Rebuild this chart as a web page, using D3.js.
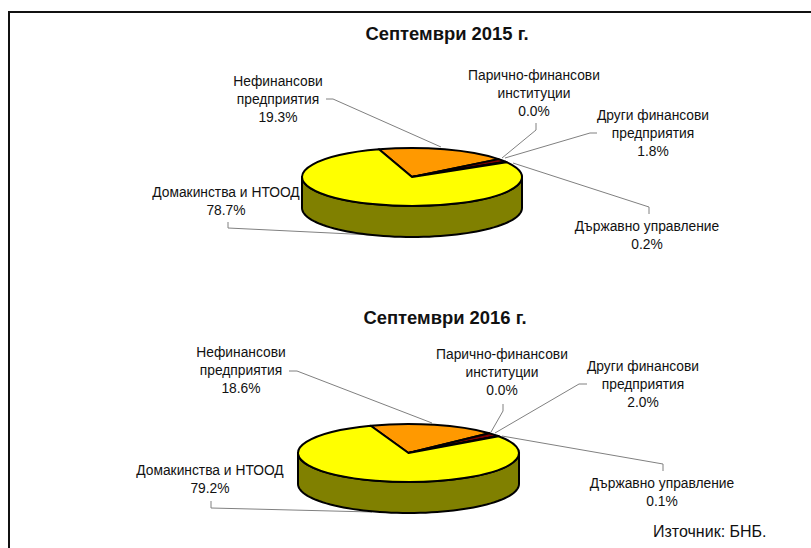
<!DOCTYPE html>
<html lang="bg">
<head>
    <meta charset="UTF-8">
    <title>Септември 2015 г. / Септември 2016 г.</title>
    <script src="https://d3js.org/d3.v7.min.js"></script>
    <style>
        body { margin: 0; background: #fff; }
        svg { display: block; }
        text { font-family: "Liberation Sans", Arial, sans-serif; fill: #111; }
        .label { font-size: 13.8px; text-anchor: middle; }
        .title { font-size: 18.4px; font-weight: bold; text-anchor: middle; }
        .source { font-size: 16px; }
        .leader { fill: none; stroke: #808080; stroke-width: 1; }
        .outline { stroke: #000; stroke-width: 2; vector-effect: non-scaling-stroke; stroke-linejoin: round; }
    </style>
</head>
<body>
    <svg id="chart" width="811" height="548"></svg>

    <script>
        // Data
        const sectors = ["Нефинансови предприятия", "Други финансови предприятия", "Държавно управление", "Парично-финансови институции", "Домакинства и НТООД"];
        const colors = ["#ff9900", "#800000", "#000000", "#000000", "#ffff00"];
        const titles = ["Септември 2015 г.", "Септември 2016 г."];
        const values2015 = [19.3, 1.8, 0.2, 0.0, 78.7];
        const values2016 = [18.6, 2.0, 0.1, 0.0, 79.2];
        const sourceText = "Източник: БНБ.";

        // Label lines for each sector (the value line is added below)
        const labelLines = [
            ["Нефинансови", "предприятия"],
            ["Други финансови", "предприятия"],
            ["Държавно управление"],
            ["Парично-финансови", "институции"],
            ["Домакинства и НТООД"]
        ];

        // Layout, kept apart from the values
        const layout2015 = {
            cx: 412, cy: 177, rx: 110, ry: 29, depth: 31, start: -17.5, titleX: 447, titleY: 40,
            labels: [[278, 86], [653, 120], [647, 231], [534, 80], [226, 197]],
            leaders: [
                [[326, 99], [333, 99], [441, 147]],
                [[597, 133], [590, 133], [505, 158]],
                [[649, 214], [649, 207], [513, 163]],
                [[536, 123], [536, 130], [502, 158]],
                [[228, 222], [228, 228], [372, 235]]
            ]
        };
        const layout2016 = {
            cx: 408.5, cy: 453, rx: 110.5, ry: 29, depth: 31, start: -20, titleX: 445, titleY: 324,
            labels: [[241, 357], [643, 371], [662, 488], [502, 359], [210, 475]],
            leaders: [
                [[289, 371], [297, 371], [432, 423]],
                [[587, 384], [579, 384], [495, 433]],
                [[663, 471], [663, 464], [502, 436]],
                [[503, 404], [503, 411], [491, 432]],
                [[211, 501], [211, 508], [372, 512]]
            ]
        };

        const svg = d3.select("#chart");
        const color = d3.scaleOrdinal(sectors, colors);
        const toRad = Math.PI / 180;
        const line = d3.line();

        // Frame: only the left and top edges are in the picture
        svg.append("path")
            .attr("d", line([[9, 548], [9, 12], [811, 12]]))
            .attr("fill", "none")
            .attr("stroke", "#111")
            .attr("stroke-width", 2);

        function drawPie(values, title, cfg) {
            const g = svg.append("g");

            g.append("text")
                .attr("class", "title")
                .attr("x", cfg.titleX)
                .attr("y", cfg.titleY)
                .text(title);

            // Leader lines go under the pie
            g.selectAll("path.leader")
                .data(cfg.leaders)
                .enter()
                .append("path")
                .attr("class", "leader")
                .attr("d", d => line(d));

            // Side wall: the front half of the ellipse pushed down by depth
            const edge = (deg, dy) => [
                cfg.cx + cfg.rx * Math.sin(deg * toRad),
                cfg.cy - cfg.ry * Math.cos(deg * toRad) + dy
            ];
            const front = d3.range(90, 271, 3);
            const wall = front.map(a => edge(a, 0)).concat(front.slice().reverse().map(a => edge(a, cfg.depth)));
            g.append("path")
                .attr("class", "outline")
                .attr("d", line(wall) + "Z")
                .attr("fill", "#808000");

            // Top face: a normal pie squashed into an ellipse
            const pie = d3.pie()
                .sort(null)
                .startAngle(cfg.start * toRad)
                .endAngle((cfg.start + 360) * toRad);
            const arc = d3.arc().innerRadius(0).outerRadius(cfg.rx);

            g.append("g")
                .attr("transform", `translate(${cfg.cx},${cfg.cy}) scale(1,${cfg.ry / cfg.rx})`)
                .selectAll("path")
                .data(pie(values))
                .enter()
                .append("path")
                .attr("class", "outline")
                .attr("d", arc)
                .attr("fill", (_, i) => color(sectors[i]));

            // Labels
            sectors.forEach((s, i) => {
                const [x, y] = cfg.labels[i];
                const lines = labelLines[i].concat(values[i].toFixed(1) + "%");
                const t = g.append("text").attr("class", "label");
                lines.forEach((txt, k) => {
                    t.append("tspan")
                        .attr("x", x)
                        .attr("y", y + k * 18)
                        .text(txt);
                });
            });
        }

        drawPie(values2015, titles[0], layout2015);
        drawPie(values2016, titles[1], layout2016);

        svg.append("text")
            .attr("class", "source")
            .attr("x", 653)
            .attr("y", 537)
            .text(sourceText);
    </script>
</body>
</html>
